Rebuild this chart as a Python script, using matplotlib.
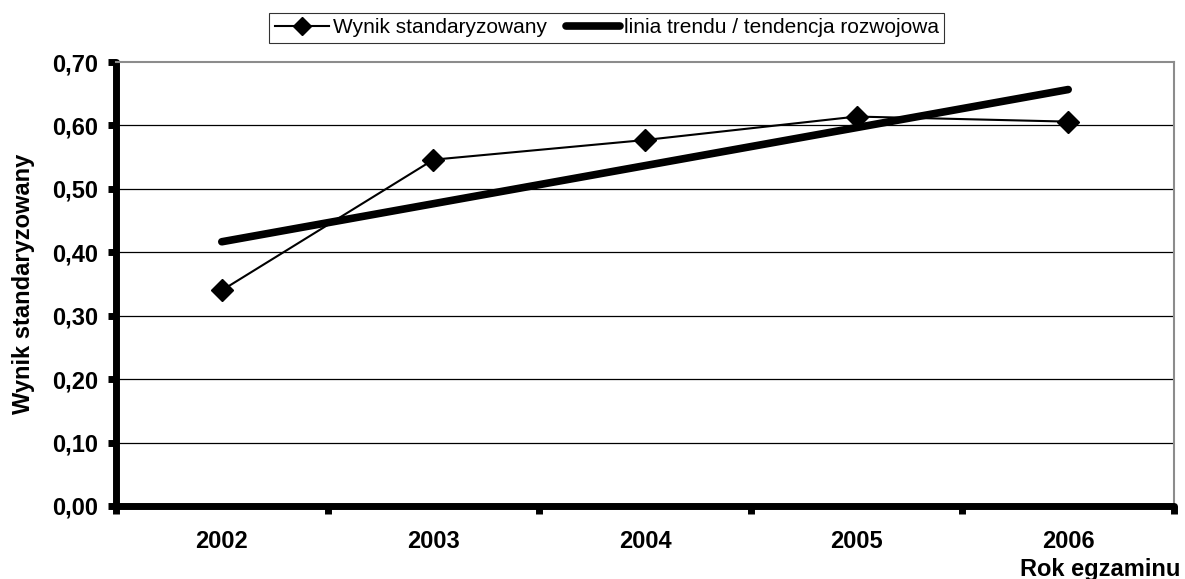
import numpy as np
import matplotlib.pyplot as plt
from matplotlib.lines import Line2D

plt.rcParams['font.family'] = ['Liberation Sans', 'DejaVu Sans']

lata = ['2002', '2003', '2004', '2005', '2006']
wynik = [0.340, 0.546, 0.577, 0.614, 0.606]

x = np.arange(len(lata))
# linia trendu liczona z wyników (regresja liniowa)
a, b = np.polyfit(x, wynik, 1)
trend = a * x + b

fig = plt.figure(figsize=(11.85, 5.79), dpi=100)
ax = fig.add_axes([0.0979, 0.1261, 0.8928, 0.7668])

ax.plot(x, trend, color='black', lw=5.5, solid_capstyle='round', zorder=3)
ax.plot(x, wynik, color='black', lw=1.5, marker='D', markersize=11, zorder=4)

ax.set_xlim(-0.5, len(lata) - 0.5)
ax.set_ylim(0, 0.70)

yt = np.arange(0, 0.71, 0.1)
ax.set_yticks(yt)
ax.set_yticklabels([f'{v:.2f}'.replace('.', ',') for v in yt], fontsize=17, fontweight='bold')
for v in yt[1:-1]:
    ax.axhline(v, color='black', lw=0.9, zorder=1)

# podziałka między latami, etykiety na środku
ax.set_xticks(np.arange(-0.5, len(lata), 1.0))
ax.set_xticklabels([])
ax.set_xticks(x, minor=True)
ax.set_xticklabels(lata, minor=True, fontsize=17, fontweight='bold')
ax.tick_params(axis='x', which='minor', length=0, pad=17)
ax.tick_params(axis='x', which='major', direction='out', length=6, width=5)
ax.tick_params(axis='y', direction='out', length=6, width=5, pad=7)
for t in ax.xaxis.get_majorticklines() + ax.yaxis.get_majorticklines():
    t.set_solid_capstyle('round')

for s in ['left', 'bottom']:
    ax.spines[s].set_linewidth(5)
    ax.spines[s].set_capstyle('round')
for s in ['top', 'right']:
    ax.spines[s].set_color('#8c8c8c')
    ax.spines[s].set_linewidth(1.5)

ax.set_ylabel('Wynik standaryzowany', fontsize=17, fontweight='bold')
ax.yaxis.set_label_coords(-0.077, 0.5)
fig.text(0.996, 0.006, 'Rok egzaminu', ha='right', va='baseline', fontsize=17, fontweight='bold')

handles = [
    Line2D([], [], color='black', lw=1.5, marker='D', markersize=9),
    Line2D([], [], color='black', lw=5.5, solid_capstyle='round'),
]
leg = fig.legend(handles, ['Wynik standaryzowany', 'linia trendu / tendencja rozwojowa'],
                 loc='center', bbox_to_anchor=(0.512, 0.952), ncol=2, fontsize=15,
                 frameon=True, fancybox=False, edgecolor='black', handlelength=2.6,
                 handletextpad=0.2, columnspacing=0.9, borderpad=0.25, borderaxespad=0)
leg.get_frame().set_linewidth(0.8)

fig.savefig('out.png', dpi=100)
